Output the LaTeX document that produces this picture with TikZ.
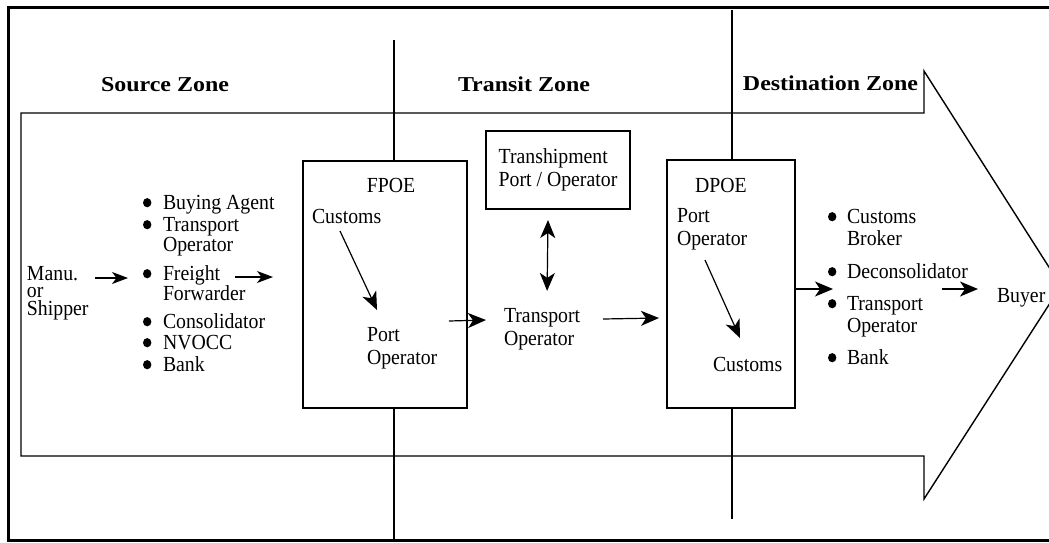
\documentclass[tikz,border=0pt]{standalone}
\usepackage{fontspec}
\setmainfont{Liberation Serif}[FakeStretch=0.92]
\newfontfamily\zonefont{Liberation Serif}[FakeStretch=1.13]
\usetikzlibrary{arrows.meta}
\newcommand\mlines[2]{\vtop{\baselineskip=#1pt\lineskiplimit=-\maxdimen\halign{##\hfil\cr#2\crcr}}}
\newcommand\bdot{\tikz[baseline=0pt]\fill (4.2pt,6.3pt) ellipse [x radius=4.2pt, y radius=4.6pt];}
\newcommand\blist[3]{\vtop{\baselineskip=#1pt\lineskiplimit=-\maxdimen\halign{\hbox to #2pt{##\hfil}&##\hfil\cr#3\crcr}}}
\begin{document}
\begin{tikzpicture}[x=1pt,y=-1pt,
  tx/.style={inner sep=0pt, outer sep=0pt, anchor=base west, font=\fontsize{21.5}{22}\selectfont},
  zone/.style={inner sep=0pt, outer sep=0pt, anchor=base, font=\zonefont\fontsize{21.2}{22}\selectfont\bfseries},
  box/.style={draw, line width=1.3pt, fill=white, inner sep=0pt, outer sep=0pt, font=\fontsize{21.5}{22}\selectfont},
  thinline/.style={line width=1.2pt},
  arr/.style={line width=1.2pt, -{Stealth[length=18pt,width=15pt,inset=5pt]}},
  arrs/.style={line width=1.2pt, -{Stealth[length=16pt,width=12pt,inset=4.5pt]}},
  dbl/.style={line width=1.2pt, {Stealth[length=18pt,width=15pt,inset=5pt]}-{Stealth[length=18pt,width=15pt,inset=5pt]}}]
\useasboundingbox (0,0) rectangle (1049,542);
\clip (0,0) rectangle (1049,542);
% outer frame
\draw[line width=3pt] (8,7) rectangle (1100,540);
% zone divider lines
\draw[thinline] (394,40) -- (394,540);
\draw[thinline] (732,10) -- (732,519);
% big arrow
\draw[line width=1.4pt, line join=miter] (21,113) -- (924,113) -- (924,71) -- (1061,286) -- (924,499) -- (924,456) -- (21,456) -- cycle;
% zone labels
\node[zone] (srcz) at (165,91) {Source Zone};
\node[zone] (trz) at (524,91) {Transit Zone};
\node[zone] (dstz) at (830.5,90) {Destination Zone};
% boxes
\node[box, minimum width=164pt, minimum height=247pt] (fpoe) at (385,284.5) {};
\node[box, minimum width=144pt, minimum height=78pt] (tship) at (558,170) {\mlines{23}{Transhipment\cr Port / Operator}};
\node[box, minimum width=128pt, minimum height=248pt] (dpoe) at (731,284) {};
% texts
\node[tx, anchor=base] (fpoel) at (391,192) {FPOE};
\node[tx] (cust1) at (312,223) {Customs};
\node[tx] (port1) at (367,341) {\mlines{23}{Port\cr Operator}};
\node[tx] (tport) at (504,322) {\mlines{23}{Transport\cr Operator}};
\node[tx] (dpoel) at (695,192) {DPOE};
\node[tx] (port2) at (677,222) {\mlines{23}{Port\cr Operator}};
\node[tx] (cust2) at (713,371) {Customs};
\node[tx] (manu) at (27,280) {\mlines{17.5}{Manu.\cr or\cr Shipper}};
% source list
\node[tx] (buy) at (143,209) {\blist{20}{20}{\bdot&Buying Agent}};
\node[tx] (tpo1) at (143,231) {\blist{20}{20}{\bdot&Transport\cr&Operator}};
\node[tx] (frt) at (143,280) {\blist{20}{20}{\bdot&Freight\cr&Forwarder}};
\node[tx] (cons) at (143,328) {\blist{20}{20}{\bdot&Consolidator}};
\node[tx] (nvocc) at (143,349) {\blist{20}{20}{\bdot&NVOCC}};
\node[tx] (bank1) at (143,371) {\blist{20}{20}{\bdot&Bank}};
% destination list
\node[tx] (cbrk) at (828,223) {\blist{22}{19}{\bdot&Customs\cr&Broker}};
\node[tx] (decon) at (828,278) {\blist{22}{19}{\bdot&Deconsolidator}};
\node[tx] (tpo2) at (828,310) {\blist{22}{19}{\bdot&Transport\cr&Operator}};
\node[tx] (bank2) at (828,364) {\blist{22}{19}{\bdot&Bank}};
\node[tx] (buyer) at (997,302) {Buyer};
% connectors
\draw[arrs] ([shift={(68pt,2pt)}]manu.base west) -- ([shift={(-15pt,2pt)}]frt.base west);
\draw[arrs] ([shift={(92pt,3pt)}]frt.base west) -- ([shift={(-30pt,7.5pt)}]fpoe.west);
\draw[arr] ([shift={(28pt,-8pt)}]cust1.base west) -- ([shift={(10pt,31pt)}]port1.base west);
\draw[arr] ([shift={(-18pt,-36.5pt)}]fpoe.east) -- ([shift={(-18pt,2pt)}]tport.base west);
\draw[dbl] ([shift={(-10pt,-11pt)}]tship.south) -- ([shift={(5pt,17pt)}]tport.north);
\draw[arr] ([shift={(99pt,3pt)}]tport.base west) -- ([shift={(-8pt,-34pt)}]dpoe.west);
\draw[arr] ([shift={(28pt,-38pt)}]port2.base west) -- ([shift={(27pt,33pt)}]cust2.base west);
\draw[arr] ([shift={(0pt,-5pt)}]dpoe.east) -- ([shift={(5pt,-11pt)}]decon.base west);
\draw[arr] ([shift={(114pt,-11pt)}]decon.base west) -- ([shift={(-19pt,13pt)}]buyer.base west);
\end{tikzpicture}
\end{document}
